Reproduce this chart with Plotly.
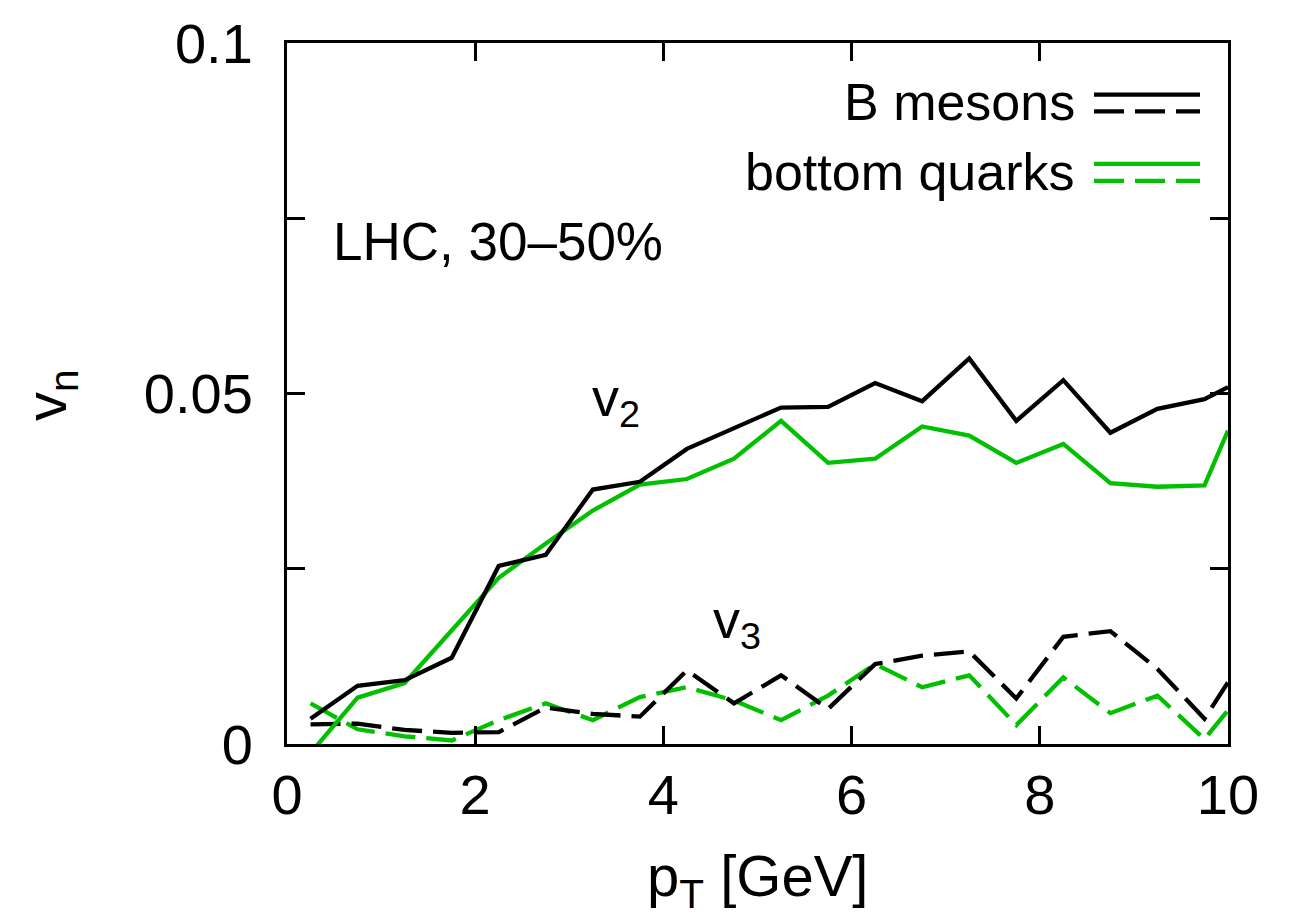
import plotly.graph_objects as go

pt = [0.25, 0.75, 1.25, 1.75, 2.25, 2.75, 3.25, 3.75, 4.25, 4.75, 5.25,
      5.75, 6.25, 6.75, 7.25, 7.75, 8.25, 8.75, 9.25, 9.75, 10.0]
v2_B = [0.0036, 0.0083, 0.0091, 0.0123, 0.0254, 0.0270, 0.0363, 0.0374, 0.0421, 0.0450, 0.0480,
        0.0481, 0.0515, 0.0489, 0.0550, 0.0461, 0.0519, 0.0444, 0.0478, 0.0492, 0.0509]
v2_b = [-0.0013, 0.0066, 0.0087, 0.0161, 0.0237, 0.0286, 0.0333, 0.0370, 0.0378, 0.0407, 0.0461,
        0.0401, 0.0407, 0.0453, 0.0440, 0.0401, 0.0428, 0.0372, 0.0367, 0.0369, 0.0447]
v3_B = [0.0028, 0.0029, 0.0020, 0.0016, 0.0017, 0.0052, 0.0043, 0.0039, 0.0105, 0.0058, 0.0098,
        0.0050, 0.0114, 0.0126, 0.0132, 0.0065, 0.0153, 0.0161, 0.0107, 0.0036, 0.0088]
v3_b = [0.0058, 0.0021, 0.0011, 0.0005, 0.0034, 0.0058, 0.0034, 0.0067, 0.0081, 0.0062, 0.0034,
        0.0069, 0.0114, 0.0081, 0.0098, 0.0027, 0.0095, 0.0044, 0.0069, 0.0007, 0.0048]

legend_labels = ["B mesons", "bottom quarks"]
x_ticks = [0, 2, 4, 6, 8, 10]

BLACK = "#000000"
GREEN = "#00c000"
FONT = "Liberation Sans, Arial, Helvetica, sans-serif"
DASH = "30px,11px"
LW = 4.3

fig = go.Figure()
fig.add_trace(go.Scatter(x=pt, y=v3_b, mode="lines", line=dict(color=GREEN, width=LW, dash=DASH), showlegend=False))
fig.add_trace(go.Scatter(x=pt, y=v3_B, mode="lines", line=dict(color=BLACK, width=LW, dash=DASH), showlegend=False))
fig.add_trace(go.Scatter(x=pt, y=v2_b, mode="lines", line=dict(color=GREEN, width=LW), showlegend=False))
fig.add_trace(go.Scatter(x=pt, y=v2_B, mode="lines", line=dict(color=BLACK, width=LW), showlegend=False))

# legend (text + solid/dashed samples)
leg_rows = [(legend_labels[0], BLACK, 97), (legend_labels[1], GREEN, 167)]
for label, col, yc in leg_rows:
    fig.add_annotation(text=label, xref="paper", yref="paper",
                       x=(1077 - 287) / 941, y=1 - (yc - 37) / 707,
                       xanchor="right", yanchor="middle", showarrow=False,
                       font=dict(size=52, color="black", family=FONT))
    fig.add_shape(type="line", xref="paper", yref="paper",
                  x0=(1094 - 287) / 941, x1=(1200 - 287) / 941,
                  y0=1 - (yc - 8 - 37) / 707, y1=1 - (yc - 8 - 37) / 707,
                  line=dict(color=col, width=LW))
    fig.add_shape(type="line", xref="paper", yref="paper",
                  x0=(1094 - 287) / 941, x1=(1200 - 287) / 941,
                  y0=1 - (yc + 9 - 37) / 707, y1=1 - (yc + 9 - 37) / 707,
                  line=dict(color=col, width=LW, dash=DASH))

fig.add_annotation(text="LHC, 30\u201350%", x=2.24, y=0.0717, showarrow=False,
                   xanchor="center", yanchor="middle",
                   font=dict(size=53, color="black", family=FONT))
fig.add_annotation(text="v<sub>2</sub>", x=3.50, y=0.0489, showarrow=False,
                   xanchor="center", yanchor="middle",
                   font=dict(size=54, color="black", family=FONT))
fig.add_annotation(text="v<sub>3</sub>", x=4.78, y=0.0173, showarrow=False,
                   xanchor="center", yanchor="middle",
                   font=dict(size=54, color="black", family=FONT))

# axis titles
fig.add_annotation(text="p<sub>T</sub> [GeV]", xref="paper", yref="paper",
                   x=(757 - 287) / 941, y=-(881 - 744) / 707, showarrow=False,
                   xanchor="center", yanchor="middle",
                   font=dict(size=58, color="black", family=FONT))
fig.add_annotation(text="v<sub>n</sub>", xref="paper", yref="paper",
                   x=-(287 - 50) / 941, y=1 - (392 - 37) / 707, showarrow=False,
                   xanchor="center", yanchor="middle", textangle=-90,
                   font=dict(size=58, color="black", family=FONT))

axis_common = dict(showgrid=False, zeroline=False, showline=True, linecolor="black",
                   linewidth=3, mirror="allticks", ticks="inside", ticklen=18,
                   tickwidth=2.5, tickcolor="black",
                   tickfont=dict(size=56, color="black", family=FONT))

fig.update_xaxes(range=[0, 10], tickvals=x_ticks, ticktext=[str(t) for t in x_ticks],
                 **axis_common)
fig.update_yaxes(range=[0, 0.1], tick0=0, dtick=0.05, ticklabelstandoff=20,
                 minor=dict(dtick=0.025, ticks="inside", ticklen=18, tickwidth=2.5,
                            tickcolor="black", showgrid=False),
                 **axis_common)

fig.update_layout(width=1294, height=919, autosize=False,
                  margin=dict(l=287, r=66, t=37, b=175),
                  plot_bgcolor="white", paper_bgcolor="white",
                  showlegend=False, font=dict(family=FONT, color="black"))

fig.write_html("out.html")
